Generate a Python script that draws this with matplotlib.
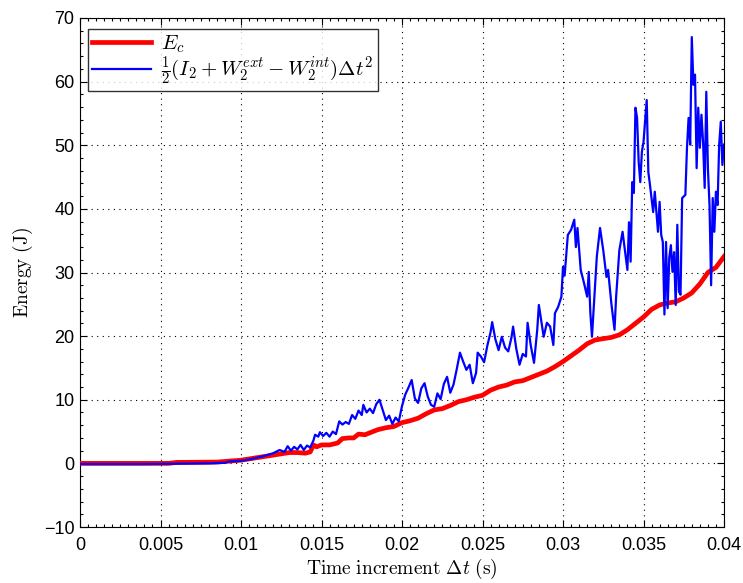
import matplotlib
matplotlib.use("Agg")
import matplotlib.pyplot as plt
from matplotlib.ticker import MultipleLocator, FixedLocator

plt.rcParams['mathtext.fontset'] = 'cm'
plt.rcParams['font.family'] = ['Liberation Sans', 'DejaVu Sans']

# Red curve: E_c
t_red = [0.0, 0.0055, 0.006, 0.0085, 0.009, 0.0095, 0.010, 0.0105, 0.011, 0.0115,
         0.012, 0.0125, 0.013, 0.0135, 0.0140, 0.0143, 0.0145, 0.0147, 0.015, 0.0155,
         0.016, 0.0163, 0.0167, 0.017, 0.0173, 0.0177, 0.018, 0.0185, 0.019, 0.0195,
         0.020, 0.0205, 0.021, 0.0215, 0.022, 0.0225, 0.023, 0.0235, 0.024, 0.0245,
         0.025, 0.0255, 0.026, 0.0265, 0.027, 0.0275, 0.028, 0.0285, 0.029, 0.0295,
         0.030, 0.0305, 0.031, 0.0315, 0.032, 0.0325, 0.033, 0.0335, 0.034, 0.0345,
         0.035, 0.0355, 0.036, 0.0365, 0.037, 0.0375, 0.038, 0.0385, 0.039, 0.0395,
         0.040]
e_red = [0.0, 0.0, 0.15, 0.2, 0.3, 0.4, 0.5, 0.7, 0.9, 1.1,
         1.3, 1.5, 1.7, 1.7, 1.6, 1.8, 2.9, 2.6, 2.9, 2.9,
         3.2, 3.9, 4.0, 4.0, 4.6, 4.5, 4.8, 5.3, 5.6, 5.8,
         6.4, 6.7, 7.1, 7.8, 8.4, 8.6, 9.1, 9.7, 10.0, 10.4,
         10.7, 11.5, 12.0, 12.3, 12.8, 13.0, 13.5, 14.0, 14.5, 15.2,
         16.0, 16.9, 17.8, 18.8, 19.4, 19.6, 19.8, 20.2, 21.0, 22.0,
         23.0, 24.2, 24.9, 25.2, 25.4, 26.0, 26.8, 28.2, 30.0, 30.8,
         32.5]

# Blue curve: 1/2 (I2 + W2ext - W2int) dt^2
t_blue = [0.0, 0.002, 0.004, 0.006, 0.008, 0.009, 0.0093, 0.0100, 0.0105, 0.0110,
          0.0115, 0.0120, 0.0124, 0.0127, 0.0129, 0.0131, 0.0133, 0.0135, 0.0137, 0.0139,
          0.0141, 0.0143, 0.0145, 0.0146, 0.0148, 0.0149, 0.0151, 0.0153, 0.0155, 0.0157,
          0.0159, 0.0161, 0.0163, 0.0165, 0.0167, 0.0169, 0.0171, 0.0173, 0.0175, 0.0176,
          0.0178, 0.0180, 0.0182, 0.0184, 0.0186, 0.0188, 0.0190, 0.0192, 0.0194, 0.0196,
          0.0198, 0.0200, 0.0202, 0.0204, 0.0206, 0.0208, 0.0210, 0.0212, 0.0214, 0.0216,
          0.0218, 0.0220, 0.0222, 0.0224, 0.0226, 0.0228, 0.0230, 0.0232, 0.0234, 0.0236,
          0.0238, 0.0240, 0.0242, 0.0244, 0.0246, 0.0247, 0.0249, 0.0251, 0.0253, 0.0255,
          0.0256, 0.0258, 0.0260, 0.0262, 0.0264, 0.0266, 0.0268, 0.0269, 0.0271, 0.0273,
          0.0275, 0.0277, 0.0278, 0.0280, 0.0282, 0.0284, 0.0285, 0.0287, 0.0288, 0.0290,
          0.0292, 0.0294, 0.0295, 0.0297, 0.0299, 0.0300, 0.0301, 0.0303, 0.0305, 0.0307,
          0.0308, 0.0309, 0.0311, 0.0313, 0.0315, 0.0316, 0.0317, 0.0318, 0.0319, 0.0321,
          0.0323, 0.0325, 0.0327, 0.0328, 0.0330, 0.0332, 0.0333, 0.0335, 0.0337, 0.0340,
          0.0341, 0.0342, 0.0343, 0.0344, 0.0345, 0.0346, 0.0347, 0.0348, 0.0349, 0.0350,
          0.0352, 0.0353, 0.0354, 0.0356, 0.0357, 0.0359, 0.0360, 0.0361, 0.0362, 0.0363,
          0.0364, 0.0365, 0.0366, 0.0367, 0.0368, 0.0369, 0.0370, 0.0371, 0.0372, 0.0373,
          0.0374, 0.0376, 0.0377, 0.0378, 0.0379, 0.0380, 0.0381, 0.0382, 0.0383, 0.0384,
          0.0385, 0.0386, 0.0387, 0.0388, 0.0389, 0.0390, 0.0391, 0.0392, 0.0393, 0.0394,
          0.0395, 0.0396, 0.0397, 0.0398, 0.0399, 0.0400]
e_blue = [-0.1, -0.1, -0.1, -0.05, 0.0, 0.1, 0.3, 0.4, 0.6, 0.9,
          1.2, 1.6, 2.1, 1.8, 2.7, 2.0, 2.6, 2.2, 2.9, 2.1,
          2.8, 2.5, 3.6, 4.5, 4.2, 4.9, 4.3, 4.8, 4.2, 5.0,
          4.6, 6.6, 6.1, 6.5, 6.2, 7.6, 7.0, 8.3, 7.6, 9.2,
          8.0, 8.6, 7.9, 9.3, 10.0, 8.4, 6.8, 7.5, 6.2, 7.2,
          6.6, 9.0, 10.8, 11.9, 13.1, 10.2, 9.5, 11.8, 12.6, 10.5,
          9.2, 8.9, 11.0, 10.1, 12.5, 13.6, 11.1, 12.4, 14.8, 17.4,
          16.0, 14.7, 15.5, 12.6, 14.2, 17.4, 16.8, 15.9, 18.5, 20.6,
          22.2, 19.5, 17.8, 19.9, 18.2, 17.6, 19.8, 21.5, 18.0, 15.5,
          17.2, 16.8, 22.1, 18.5, 15.8, 21.0, 24.9, 21.5, 19.9, 22.1,
          21.5, 18.6, 23.6, 24.6, 26.2, 30.9, 29.5, 35.9, 36.7, 38.3,
          34.0, 37.0, 30.4, 28.4, 26.2, 30.1, 23.6, 19.9, 24.1, 32.5,
          37.0, 33.5, 29.3, 30.4, 25.2, 21.0, 26.2, 33.5, 36.4, 30.4,
          37.9, 31.7, 44.2, 42.5, 55.9, 54.3, 47.4, 44.2, 49.0, 50.5,
          57.1, 45.8, 43.8, 39.5, 42.7, 36.4, 41.1, 35.9, 34.8, 23.4,
          34.8, 24.4, 32.3, 34.3, 30.1, 33.2, 24.9, 37.5, 27.0, 26.5,
          41.7, 42.2, 49.6, 54.3, 50.1, 67.0, 59.5, 61.1, 46.4, 55.9,
          49.6, 54.8, 50.5, 43.3, 58.4, 46.4, 40.6, 28.0, 41.7, 36.4,
          42.7, 40.6, 50.1, 53.7, 46.9, 50.1]

x_ticks = [0, 0.005, 0.01, 0.015, 0.02, 0.025, 0.03, 0.035, 0.04]
x_ticklabels = ['0', '0.005', '0.01', '0.015', '0.02', '0.025', '0.03', '0.035', '0.04']
y_ticks = [-10, 0, 10, 20, 30, 40, 50, 60, 70]
y_ticklabels = ['\u221210', '0', '10', '20', '30', '40', '50', '60', '70']

fig = plt.figure(figsize=(7.43, 5.83), dpi=100)
ax = fig.add_axes([80/743, 1 - 527/583, (724 - 80)/743, (527 - 18)/583])

ax.plot(t_red, e_red, color='#ff0000', linewidth=3.4, label=r'$E_c$', zorder=3,
        solid_joinstyle='round')
ax.plot(t_blue, e_blue, color='#0000ff', linewidth=1.6,
        label=r'$\frac{1}{2}(I_2+W_2^{ext}-W_2^{int})\Delta t^2$', zorder=4)

ax.set_xlim(0, 0.04)
ax.set_ylim(-10, 70)
ax.xaxis.set_major_locator(FixedLocator(x_ticks))
ax.set_xticklabels(x_ticklabels)
ax.yaxis.set_major_locator(FixedLocator(y_ticks))
ax.set_yticklabels(y_ticklabels)
ax.xaxis.set_minor_locator(MultipleLocator(0.0005))
ax.yaxis.set_minor_locator(MultipleLocator(2))

ax.tick_params(which='both', direction='in', top=True, right=True, labelsize=13,
               width=0.8, color='black')
ax.tick_params(which='major', length=5)
ax.tick_params(which='minor', length=2.5)
ax.tick_params(axis='x', pad=7)
ax.tick_params(axis='y', pad=4)

ax.grid(True, which='major', linestyle=(0, (1, 4)), color='black', linewidth=0.8)
for sp in ax.spines.values():
    sp.set_linewidth(0.8)

ax.set_xlabel(r'$\mathrm{Time\ increment\ }\Delta t\ \mathrm{(s)}$', fontsize=14, labelpad=2)
ax.set_ylabel(r'$\mathrm{Energy\ (J)}$', fontsize=14, labelpad=6)

leg = ax.legend(loc='upper left', fontsize=15, frameon=True, fancybox=False,
                borderpad=0.2, labelspacing=0.0, handlelength=2.8, handletextpad=0.5,
                borderaxespad=0.0, bbox_to_anchor=(8/644, (527 - 29)/509))
leg.get_frame().set_edgecolor('black')
leg.get_frame().set_linewidth(1.0)
for line in leg.get_lines():
    line.set_linewidth(line.get_linewidth())

fig.savefig('out.png', dpi=100)
